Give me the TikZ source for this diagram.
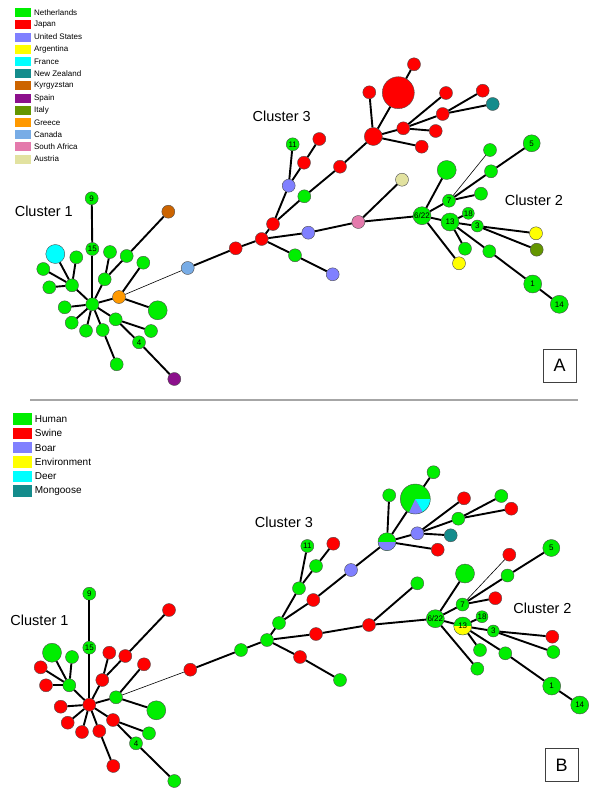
\documentclass[tikz,border=0pt]{standalone}
\usepackage{fontspec}
\setmainfont{Liberation Sans}
\usetikzlibrary{positioning}

% country colours (panel A)
\definecolor{nl}{RGB}{0,238,0}
\definecolor{jp}{RGB}{255,0,0}
\definecolor{us}{RGB}{128,128,255}
\definecolor{ar}{RGB}{255,255,0}
\definecolor{fr}{RGB}{0,255,255}
\definecolor{nz}{RGB}{20,140,140}
\definecolor{kg}{RGB}{204,100,0}
\definecolor{es}{RGB}{140,16,140}
\definecolor{it}{RGB}{100,150,0}
\definecolor{gr}{RGB}{255,153,0}
\definecolor{ca}{RGB}{120,172,230}
\definecolor{za}{RGB}{228,122,172}
\definecolor{at}{RGB}{226,226,160}
% host colours (panel B)
\colorlet{hu}{nl}
\colorlet{sw}{jp}
\colorlet{bo}{us}
\colorlet{en}{ar}
\colorlet{de}{fr}
\colorlet{mo}{nz}

\begin{document}
\begin{tikzpicture}[x=1pt, y=-1pt,
  dot/.style={circle, draw=black!70, line width=0.4pt, inner sep=0pt,
    minimum size=13pt, font=\fontsize{8}{9}\selectfont},
  link/.style={line width=1.9pt},
  thinlink/.style={line width=0.6pt},
  keyA/.style={inner sep=0pt, minimum width=16pt, minimum height=9pt},
  keyB/.style={inner sep=0pt, minimum width=19pt, minimum height=11.5pt},
  legA/.style={anchor=west, inner sep=0pt, font=\fontsize{8}{9}\selectfont},
  legB/.style={anchor=west, inner sep=0pt, font=\fontsize{10}{11}\selectfont},
  cluster/.style={inner sep=0pt, font=\fontsize{14.5}{16}\selectfont},
  tag/.style={draw=black!75, line width=0.8pt, minimum width=33pt,
    minimum height=33pt, inner sep=0pt, font=\fontsize{18}{18}\selectfont}]
  \useasboundingbox (0,0) rectangle (600,800);

  % legends
  \foreach \i/\c/\t in {0/nl/Netherlands, 1/jp/Japan, 2/us/United States,
      3/ar/Argentina, 4/fr/France, 5/nz/New Zealand, 6/kg/Kyrgyzstan,
      7/es/Spain, 8/it/Italy, 9/gr/Greece, 10/ca/Canada,
      11/za/South Africa, 12/at/Austria} {
    \node[keyA, fill=\c] (keyA\i) at (23,{12.7+12.2*\i}) {};
    \node[legA] (legA\i) at ([xshift=2.7pt]keyA\i.east) {\t};
  }
  \foreach \i/\c/\t in {0/hu/Human, 1/sw/Swine, 2/bo/Boar,
      3/en/Environment, 4/de/Deer, 5/mo/Mongoose} {
    \node[keyB, fill=\c] (keyB\i) at (22,{419+14.35*\i}) {};
    \node[legB] (legB\i) at ([xshift=3pt]keyB\i.east) {\t};
  }

  % cluster names and panel tags
  \node[cluster] (clA1) at (43.8,211) {Cluster 1};
  \node[cluster] (clA3) at (281.7,116.7) {Cluster 3};
  \node[cluster] (clA2) at (534,200) {Cluster 2};
  \node[cluster] (clB1) at (39.5,620) {Cluster 1};
  \node[cluster] (clB3) at (284,522.7) {Cluster 3};
  \node[cluster] (clB2) at (542.5,608.3) {Cluster 2};
  \node[tag] (tagA) at (559.5,365.5) {A};
  \node[tag] (tagB) at (561.5,765) {B};
  \coordinate (sepL) at (30,400);
  \coordinate (sepR) at (578,400);
  \draw[gray!70, line width=1.5pt] (sepL) -- (sepR);

  % panel A: types by country {name/x/y/colour/size/label}
  \foreach \n/\x/\y/\c/\s/\t in {
      n9/91.7/198.3/nl/13pt/9, n15/92.3/249/nl/13pt/15,
      c1/92.3/304.3/nl/13pt/{}, k/72/285.3/nl/13pt/{},
      k1/55.3/254/fr/19pt/{}, k2/76.3/257.3/nl/13pt/{},
      k3/43.3/269/nl/13pt/{}, k4/49.3/287.3/nl/13pt/{},
      l1/64.7/307.3/nl/13pt/{}, l2/71.7/322.7/nl/13pt/{},
      l3/86/330.7/nl/13pt/{}, l4/102.7/330/nl/13pt/{},
      l5/116.7/364.3/nl/13pt/{}, m/115.7/319.3/nl/13pt/{},
      m1/151/331/nl/13pt/{}, n4/139/342.3/nl/13pt/4,
      m2/174.3/379/es/13pt/{}, g/119/297/gr/13pt/{},
      g1/157.7/310.3/nl/19pt/{}, g2/143.3/262.7/nl/13pt/{},
      p/104.7/279.3/nl/13pt/{}, p1/110/252/nl/13pt/{},
      p2/126.7/256/nl/13pt/{}, p3/168.3/211.7/kg/13pt/{},
      q/187.7/268/ca/13pt/{}, r1/235.7/248.3/jp/13pt/{},
      c3/261.7/239/jp/13pt/{}, s/273/224/jp/13pt/{},
      s1/288.7/185.7/us/13pt/{}, n11/292.7/144.3/nl/13pt/11,
      s2/304/162.7/jp/13pt/{}, s3/319.3/139/jp/13pt/{},
      t1/304.3/196.3/nl/13pt/{}, t2/340/166.7/jp/13pt/{},
      h/373.3/136.5/jp/18pt/{}, h1/398.3/92.7/jp/32pt/{},
      h2/414/64.3/jp/13pt/{}, h3/369.3/92.3/jp/13pt/{},
      h4/403.3/128.3/jp/13pt/{}, h5/446/93/jp/13pt/{},
      h6/442.7/114/jp/13pt/{}, h7/482.7/90.7/jp/13pt/{},
      h8/492.7/104/nz/13pt/{}, h9/435.7/131/jp/13pt/{},
      h10/421.7/146.7/jp/13pt/{}, u1/308.3/232.7/us/13pt/{},
      u2/358.3/222/za/13pt/{}, u3/402/179.7/at/13pt/{},
      v1/295/255.3/nl/13pt/{}, v2/332.7/274.3/us/13pt/{},
      c2/422/215.7/nl/18pt/{6/22}, w1/446.7/170/nl/19pt/{},
      n7/449/200.7/nl/13pt/7, w2/481/193.7/nl/13pt/{},
      w3/491/171.3/nl/13pt/{}, w4/490/150/nl/13pt/{},
      n5/531.7/143.3/nl/17pt/5, n13/450/222/nl/18pt/13,
      n18/468.3/213.3/nl/12pt/18, n3/477.3/226/nl/12pt/3,
      x1/536/233.3/ar/13pt/{}, x2/536.7/249.7/it/13pt/{},
      x3/465/248.7/nl/13pt/{}, x4/489.3/251.3/nl/13pt/{},
      n1/532.7/284/nl/18pt/1, n14/559.3/304.3/nl/18pt/14,
      x5/459/263.3/ar/13pt/{}}
    \node[dot, fill=\c, minimum size=\s] (a\n) at (\x,\y) {\t};

  % panel B: types by host
  \foreach \n/\x/\y/\c/\s/\t in {
      n9/89.3/593.7/hu/13pt/9, n15/89.3/647.7/hu/13pt/15,
      c1/89.3/704.7/sw/13pt/{}, k/69.3/685.3/hu/13pt/{},
      k1/52/652.7/hu/19pt/{}, k2/72/657/hu/13pt/{},
      k3/40.7/667.3/sw/13pt/{}, k4/46/685.3/sw/13pt/{},
      l1/60.7/706.7/sw/13pt/{}, l2/67.7/722.7/sw/13pt/{},
      l3/82/732/sw/13pt/{}, l4/99.3/731/sw/13pt/{},
      l5/113.3/766/sw/13pt/{}, m/113/720/sw/13pt/{},
      m1/149/733.3/hu/13pt/{}, n4/136/743.3/hu/13pt/4,
      m2/174.3/781/hu/13pt/{}, g/116/697.3/hu/13pt/{},
      g1/156.3/710.3/hu/19pt/{}, g2/144/664.3/sw/13pt/{},
      p/102.3/680/sw/13pt/{}, p1/109.3/652.7/sw/13pt/{},
      p2/125.3/656/sw/13pt/{}, p3/169/610/sw/13pt/{},
      q/190.3/669.7/sw/13pt/{}, r1/241/650/hu/13pt/{},
      c3/267/640/hu/13pt/{}, s/279/623/hu/13pt/{},
      s1/299/588.3/hu/13pt/{}, n11/307.3/546/hu/13pt/11,
      s2/316/566/hu/13pt/{}, s3/333.3/543.7/sw/13pt/{},
      t1/313.3/600/sw/13pt/{}, t2/351/570/bo/13pt/{},
      h2/433.5/472.2/hu/13pt/{}, h3/389.2/495.3/hu/13pt/{},
      h4/417.3/533.3/bo/13pt/{}, h5/464/498.3/sw/13pt/{},
      h6/458.3/518.7/hu/13pt/{}, h7/501.3/496/hu/13pt/{},
      h8/511.3/508.7/sw/13pt/{}, h9/450.7/535.3/mo/13pt/{},
      h10/437.7/549.7/sw/13pt/{}, u1/316/634/sw/13pt/{},
      u2/369/625/sw/13pt/{}, u3/417.3/583.3/hu/13pt/{},
      v1/300/657/sw/13pt/{}, v2/340/680/hu/13pt/{},
      c2/435.3/618.7/hu/18pt/{6/22}, w1/465/573.5/hu/19pt/{},
      n7/462.5/604.5/hu/13pt/7, w2/495.3/598.2/sw/13pt/{},
      w3/507.5/575.5/hu/13pt/{}, w4/509.3/554.7/sw/13pt/{},
      n5/551.3/548/hu/17pt/5, n18/482/616.7/hu/12pt/18,
      n3/493.3/631/hu/12pt/3, x1/552.3/636.7/sw/13pt/{},
      x2/553.3/652/hu/13pt/{}, x3/480/650/hu/13pt/{},
      x4/505.3/653.3/hu/13pt/{}, n1/551.7/686/hu/18pt/1,
      n14/579.7/705/hu/18pt/14, x5/477.3/668.7/hu/13pt/{}}
    \node[dot, fill=\c, minimum size=\s] (b\n) at (\x,\y) {\t};
  % mixed-host types
  \node[dot, fill=hu, minimum size=18pt, path picture={
      \fill[bo] (path picture bounding box.west) rectangle
        (path picture bounding box.south east);}] (bh) at (387,541.7) {};
  \node[dot, fill=hu, minimum size=18pt, path picture={
      \fill[en] (path picture bounding box.west) rectangle
        (path picture bounding box.south east);}] (bn13) at (462.7,626) {13};
  \node[dot, fill=hu, minimum size=30pt, path picture={
      \fill[bo] (path picture bounding box.center) -- ++(115:20)
        arc[start angle=115, end angle=60, radius=20] -- cycle;
      \fill[de] (path picture bounding box.center) -- ++(60:20)
        arc[start angle=60, end angle=0, radius=20] -- cycle;}]
    (bh1) at (415.3,499) {};

  % the spanning tree, same in both panels
  \foreach \p in {a,b} {
    \foreach \u/\v in {n9/n15, n15/c1, k1/k, k2/k, k3/k, k4/k, k/c1,
        l1/c1, l2/c1, l3/c1, l4/c1, l4/l5, c1/m, m/m1, m/n4, n4/m2,
        c1/g, g/g1, g/g2, c1/p, p/p1, p/p2, p2/p3,
        q/r1, r1/c3, c3/s, s/s1, s1/n11, s1/s2, s2/s3, s/t1, t1/t2,
        t2/h, h/h1, h1/h2, h/h3, h/h4, h4/h5, h4/h6, h4/h9, h6/h7,
        h6/h8, h/h10, c3/u1, u1/u2, u2/c2, u2/u3, c3/v1, v1/v2,
        c2/w1, c2/n7, n7/w2, n7/w3, w3/n5, c2/n13, n13/n18, n13/n3,
        n3/x1, n3/x2, n13/x3, n13/x4, x4/n1, n1/n14, c2/x5}
      \draw[link] (\p\u) -- (\p\v);
    \draw[thinlink] (\p g) -- (\p q);
    \draw[thinlink] (\p n7) -- (\p w4);
  }
\end{tikzpicture}
\end{document}
